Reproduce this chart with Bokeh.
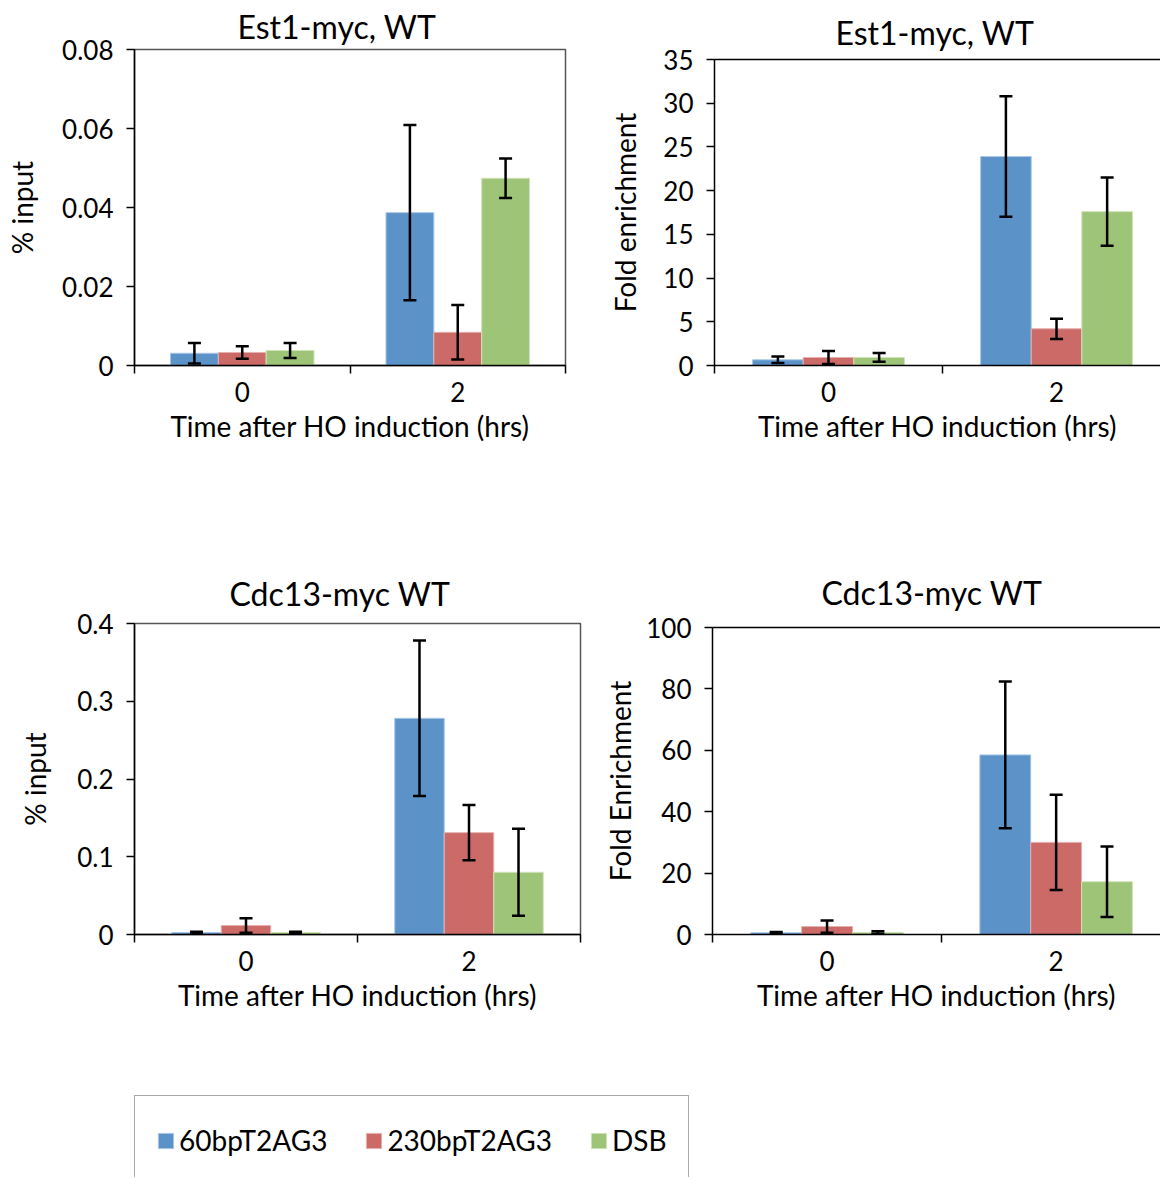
from bokeh.plotting import figure
from bokeh.layouts import column, row
from bokeh.models import (FixedTicker, LinearAxis, Whisker, TeeHead, ColumnDataSource,
                          Legend, LegendItem, Range1d, Spacer)
from bokeh.embed import file_html
from bokeh.resources import INLINE

FONT = "Lato"

hours = [0, 2]
series = ["60bpT2AG3", "230bpT2AG3", "DSB"]
colors = ["#5B93C9", "#CB6A66", "#9EC577"]
edge_colors = ["#A8C6E6", "#E4B1AE", "#CFE2BA"]

# Est1-myc, WT : % input
est1_input_60 = [0.0031, 0.0387]
est1_input_230 = [0.0033, 0.0084]
est1_input_dsb = [0.0038, 0.0474]
est1_input_60_err = [0.0026, 0.0222]
est1_input_230_err = [0.0016, 0.0069]
est1_input_dsb_err = [0.0019, 0.0050]

# Est1-myc, WT : fold enrichment
est1_fold_60 = [0.65, 23.9]
est1_fold_230 = [0.92, 4.2]
est1_fold_dsb = [0.92, 17.6]
est1_fold_60_err = [0.37, 6.9]
est1_fold_230_err = [0.75, 1.16]
est1_fold_dsb_err = [0.50, 3.9]

# Cdc13-myc WT : % input
cdc13_input_60 = [0.0025, 0.278]
cdc13_input_230 = [0.0116, 0.131]
cdc13_input_dsb = [0.0026, 0.080]
cdc13_input_60_err = [0.001, 0.100]
cdc13_input_230_err = [0.0094, 0.0355]
cdc13_input_dsb_err = [0.001, 0.056]

# Cdc13-myc WT : fold enrichment
cdc13_fold_60 = [0.54, 58.5]
cdc13_fold_230 = [2.6, 30.0]
cdc13_fold_dsb = [0.65, 17.2]
cdc13_fold_60_err = [0.3, 23.9]
cdc13_fold_230_err = [2.0, 15.5]
cdc13_fold_dsb_err = [0.4, 11.5]

est1_input_ticks = [0, 0.02, 0.04, 0.06, 0.08]
est1_fold_ticks = [0, 5, 10, 15, 20, 25, 30, 35]
cdc13_input_ticks = [0, 0.1, 0.2, 0.3, 0.4]
cdc13_fold_ticks = [0, 20, 40, 60, 80, 100]

x_label = "Time after HO induction (hrs)"
BAR_W = 0.444  # gap width 150 % of a 2-hour category slot


def panel(title, ylabel, values, errors, yticks, width, height, borders, xend,
          boxed, title_offset, title_standoff, ylabel_standoff):
    left, right, top, bottom = borders
    p = figure(width=width, height=height, x_range=Range1d(-1, xend),
               y_range=Range1d(0, yticks[-1]), output_backend="svg",
               toolbar_location=None, min_border_left=left, min_border_right=right,
               min_border_top=top, min_border_bottom=bottom)
    p.grid.visible = False
    p.background_fill_color = "white"
    p.border_fill_color = "white"

    p.title.text = title
    p.title.text_font = FONT
    p.title.text_font_size = "32px"
    p.title.text_font_style = "normal"
    p.title.text_color = "black"
    p.title.align = "left"
    p.title.offset = title_offset
    p.title.standoff = title_standoff

    sources = []
    offsets = [-BAR_W, 0.0, BAR_W]
    for s, vals, errs, c, ec, off in zip(series, values, errors, colors, edge_colors, offsets):
        xs = [h + off for h in hours]
        src = ColumnDataSource(dict(x=xs, top=vals,
                                    upper=[v + e for v, e in zip(vals, errs)],
                                    lower=[v - e for v, e in zip(vals, errs)]))
        p.vbar(x="x", top="top", width=BAR_W, bottom=0, source=src,
               fill_color=c, line_color=ec, line_width=1)
        sources.append(src)
        w = Whisker(source=src, base="x", upper="upper", lower="lower",
                    line_color="black", line_width=2.5, level="overlay",
                    upper_head=TeeHead(size=13, line_width=2.5, line_color="black"),
                    lower_head=TeeHead(size=13, line_width=2.5, line_color="black"))
        p.add_layout(w)

    xa = p.below[0]
    xa.ticker = FixedTicker(ticks=hours, minor_ticks=[-1, 1, 3])
    xa.major_tick_line_color = None
    xa.major_tick_out = 0
    xa.major_tick_in = 0
    xa.minor_tick_out = 8
    xa.minor_tick_in = 0
    xa.minor_tick_line_color = "black"
    xa.minor_tick_line_width = 1.5
    xa.axis_line_color = "black"
    xa.axis_line_width = 1.5
    xa.major_label_text_font = FONT
    xa.major_label_text_font_size = "26px"
    xa.major_label_text_color = "black"
    xa.major_label_standoff = 8
    xa.axis_label = x_label
    xa.axis_label_text_font = FONT
    xa.axis_label_text_font_size = "28px"
    xa.axis_label_text_font_style = "normal"
    xa.axis_label_text_color = "black"
    xa.axis_label_standoff = 4

    ya = p.left[0]
    ya.ticker = FixedTicker(ticks=yticks, minor_ticks=[])
    ya.major_label_overrides = {0: "0"}
    ya.major_tick_out = 8
    ya.major_tick_in = 0
    ya.major_tick_line_color = "black"
    ya.major_tick_line_width = 1.5
    ya.axis_line_color = "black"
    ya.axis_line_width = 1.5
    ya.major_label_text_font = FONT
    ya.major_label_text_font_size = "26px"
    ya.major_label_text_color = "black"
    ya.major_label_standoff = 13
    ya.axis_label = ylabel
    ya.axis_label_text_font = FONT
    ya.axis_label_text_font_size = "28px"
    ya.axis_label_text_font_style = "normal"
    ya.axis_label_text_color = "black"
    ya.axis_label_standoff = ylabel_standoff

    if boxed:
        p.outline_line_color = "#555555"
        p.outline_line_width = 1.5
    else:
        p.outline_line_color = None
        top_axis = LinearAxis(ticker=FixedTicker(ticks=[], minor_ticks=[]),
                              axis_line_color="black", axis_line_width=1.5,
                              major_label_text_font_size="0px", major_label_standoff=0,
                              major_tick_out=0, major_tick_in=0, minor_tick_out=0,
                              minor_tick_in=0, major_tick_line_color=None,
                              minor_tick_line_color=None)
        p.add_layout(top_axis, "above")
    return p, sources


pA, _ = panel("Est1-myc, WT", "% input",
              [est1_input_60, est1_input_230, est1_input_dsb],
              [est1_input_60_err, est1_input_230_err, est1_input_dsb_err],
              est1_input_ticks, 600, 470, (134, 35, 49, 105), 3, True, 103, 8, 20)
pB, _ = panel("Est1-myc, WT", "Fold enrichment",
              [est1_fold_60, est1_fold_230, est1_fold_dsb],
              [est1_fold_60_err, est1_fold_230_err, est1_fold_dsb_err],
              est1_fold_ticks, 560, 468, (114, 0, 40, 105), 2.912, False, 121, 16, 18)
pC, srcC = panel("Cdc13-myc WT", "% input",
                 [cdc13_input_60, cdc13_input_230, cdc13_input_dsb],
                 [cdc13_input_60_err, cdc13_input_230_err, cdc13_input_dsb_err],
                 cdc13_input_ticks, 600, 590, (134, 20, 153, 126), 3, True, 95, 22, 22)
pD, _ = panel("Cdc13-myc WT", "Fold Enrichment",
              [cdc13_fold_60, cdc13_fold_230, cdc13_fold_dsb],
              [cdc13_fold_60_err, cdc13_fold_230_err, cdc13_fold_dsb_err],
              cdc13_fold_ticks, 560, 586, (112, 0, 153, 126), 2.911, False, 109, 32, 6)

# legend panel (box cut by the bottom of the page, as in the original);
# its renderers share the Cdc13 % input sources but their ranges keep the bars off-view
pL = figure(width=1160, height=117, x_range=Range1d(10, 11), y_range=Range1d(10, 11),
            output_backend="svg", toolbar_location=None, min_border_left=99,
            min_border_right=0, min_border_top=0, min_border_bottom=0,
            x_axis_location=None, y_axis_location=None)
pL.grid.visible = False
pL.outline_line_color = None
leg_renderers = [pL.vbar(x="x", top="top", width=BAR_W, source=src, fill_color=c,
                         line_color=ec, line_width=1)
                 for src, c, ec in zip(srcC, colors, edge_colors)]
legend = Legend(items=[LegendItem(label=s, renderers=[r]) for s, r in zip(series, leg_renderers)],
                orientation="horizontal", location="top_left", margin=35, padding=21,
                spacing=37, glyph_width=19, glyph_height=19, label_standoff=4,
                label_height=46, label_text_font=FONT, label_text_font_size="28px",
                label_text_color="black", border_line_color="#555555",
                border_line_width=1.5, background_fill_color="white",
                background_fill_alpha=1.0)
pL.add_layout(legend)

layout = column(row(pA, column(Spacer(height=2), pB)),
                row(pC, column(Spacer(height=4), pD)),
                pL)
open("out.html", "w").write(file_html(layout, INLINE))
